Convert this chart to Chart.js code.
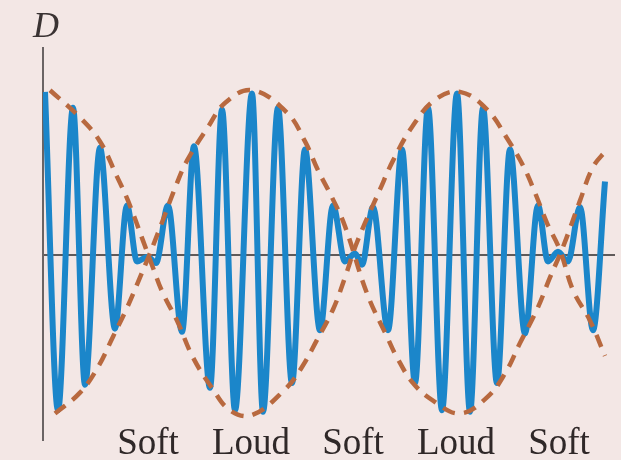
<!DOCTYPE html>
<html>
<head>
<meta charset="utf-8">
<script src="https://cdn.jsdelivr.net/npm/chart.js@4/dist/chart.umd.min.js"></script>
<style>
  html, body { margin: 0; padding: 0; background: #f3e7e5; }
  #wrap { width: 621px; height: 460px; position: relative; }
</style>
</head>
<body>
<div id="wrap"><canvas id="c" width="621" height="460"></canvas></div>
<script>
// ---- Data (time t, displacement D) ----
const waveT = [0.2, 1.5, 3.0, 4.2, 5.7, 7.2, 8.4, 9.4, 10.5, 11.3, 12.5, 13.9, 15.1, 16.7, 17.9, 19.2,
               20.9, 22.0, 23.5, 24.9, 26.2, 27.7, 29.0, 30.2, 31.2, 31.9, 33.0, 34.5, 35.9, 37.2,
               38.5, 39.9, 41.4, 42.7, 44.0, 45.4, 46.7, 48.2, 49.5, 50.5, 51.5, 52.5, 53.7, 55.0, 56.2];
const waveD = [1.02, -0.97, 0.92, -0.81, 0.67, -0.46, 0.31, -0.04, -0.01, -0.05, 0.31, -0.48, 0.68, -0.83, 0.91, -0.97,
               1.01, -0.98, 0.92, -0.80, 0.66, -0.47, 0.31, -0.04, 0.01, -0.06, 0.30, -0.47, 0.66, -0.80,
               0.92, -0.97, 1.01, -0.98, 0.92, -0.80, 0.66, -0.49, 0.31, -0.04, 0.02, -0.04, 0.30, -0.47, 0.46];

const envAT = [0.7, 3.7, 5.7, 7.4, 8.5, 10.0, 11.0, 12.0, 13.4, 15.0, 16.9, 18.7, 20.9, 24.2, 25.9, 27.4,
               29.0, 30.2, 31.4, 33.7, 35.0, 36.9, 39.2, 41.7, 44.4, 46.4, 48.0, 49.2, 50.4, 51.7, 53.0, 54.7, 56.2];
const envAD = [1.03, 0.86, 0.71, 0.49, 0.34, 0.09, -0.08, -0.24, -0.41, -0.64, -0.83, -0.97, -1.00, -0.84, -0.70, -0.53,
               -0.34, -0.14, 0.08, 0.41, 0.59, 0.80, 0.97, 1.02, 0.91, 0.73, 0.56, 0.39, 0.20, 0.03, -0.22, -0.41, -0.63];

const envBT = [1.2, 3.7, 5.5, 7.0, 8.4, 9.7, 11.2, 13.4, 14.4, 16.5, 18.2, 20.9, 24.4, 26.2, 27.5, 28.9,
               30.2, 32.4, 34.4, 35.4, 37.0, 39.0, 41.7, 44.4, 46.2, 47.7, 49.4, 50.7, 52.0, 53.7, 55.0, 56.4];
const envBD = [-0.99, -0.86, -0.70, -0.51, -0.33, -0.14, 0.09, 0.45, 0.59, 0.80, 0.95, 1.03, 0.89, 0.71, 0.53, 0.36,
               0.18, -0.24, -0.51, -0.64, -0.80, -0.91, -0.99, -0.89, -0.74, -0.55, -0.34, -0.14, 0.05, 0.34, 0.55, 0.66];

const beatLabels = ['Soft', 'Loud', 'Soft', 'Loud', 'Soft'];
const beatT = [10.5, 20.8, 31.0, 41.3, 51.6];
const axisLabel = 'D';

// ---- Build chart ----
const pts = (xs, ys) => xs.map((x, i) => ({ x: x, y: ys[i] }));

const textPlugin = {
  id: 'beatText',
  afterDraw(chart) {
    const ctx = chart.ctx;
    const xs = chart.scales.x;
    const area = chart.chartArea;
    ctx.save();
    ctx.fillStyle = '#2f2828';
    ctx.textBaseline = 'alphabetic';
    ctx.textAlign = 'center';
    ctx.font = '37px "Liberation Serif", "DejaVu Serif", serif';
    beatLabels.forEach((lab, i) => {
      ctx.fillText(lab, xs.getPixelForValue(beatT[i]), area.bottom + 14);
    });
    ctx.font = 'italic 36px "Liberation Serif", "DejaVu Serif", serif';
    ctx.fillStyle = '#3a3333';
    ctx.fillText(axisLabel, area.left + 3, area.top - 11);
    ctx.restore();
  }
};

new Chart(document.getElementById('c'), {
  type: 'line',
  data: {
    datasets: [
      {
        label: 'wave',
        data: pts(waveT, waveD),
        borderColor: '#1b86ca',
        borderWidth: 6,
        pointRadius: 0,
        cubicInterpolationMode: 'monotone',
        fill: false,
        order: 2
      },
      {
        label: 'envelope A',
        data: pts(envAT, envAD),
        borderColor: '#b8693f',
        borderWidth: 4.5,
        borderDash: [13, 9],
        pointRadius: 0,
        tension: 0.4,
        fill: false,
        order: 1
      },
      {
        label: 'envelope B',
        data: pts(envBT, envBD),
        borderColor: '#b8693f',
        borderWidth: 4.5,
        borderDash: [13, 9],
        pointRadius: 0,
        tension: 0.4,
        fill: false,
        order: 1
      }
    ]
  },
  options: {
    responsive: false,
    animation: false,
    events: [],
    layout: { padding: { left: 43, right: 6, top: 48, bottom: 20 } },
    plugins: { legend: { display: false }, tooltip: { enabled: false }, title: { display: false } },
    scales: {
      x: {
        type: 'linear',
        min: 0,
        max: 57.2,
        display: false
      },
      y: {
        type: 'linear',
        min: -1.156,
        max: 1.294,
        afterBuildTicks: (s) => { s.ticks = [{ value: 0 }]; },
        ticks: { display: false },
        grid: {
          display: true,
          drawTicks: false,
          lineWidth: 2,
          color: (c) => (c.tick && c.tick.value === 0 ? '#5f5a5a' : 'rgba(0,0,0,0)')
        },
        border: { display: true, color: '#6a6464', width: 2 }
      }
    }
  },
  plugins: [textPlugin]
});
</script>
</body>
</html>
